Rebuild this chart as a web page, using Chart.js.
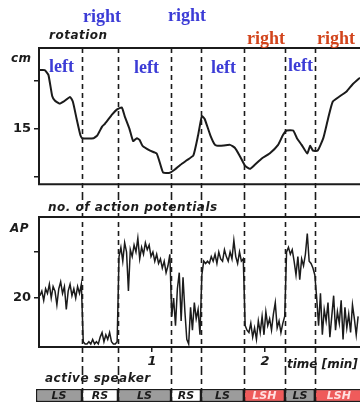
<!DOCTYPE html>
<html>
<head>
<meta charset="utf-8">
<script src="https://cdn.jsdelivr.net/npm/chart.js@4.4.1/dist/chart.umd.min.js"></script>
<style>
  body { margin: 0; background: #fff; }
  .fig { position: relative; width: 360px; height: 403px; overflow: hidden; font-family: "DejaVu Sans", sans-serif; }
  .fig canvas { position: absolute; left: 0; }
  .note { position: absolute; font-style: italic; font-weight: bold; font-size: 12px; line-height: 12px; color: #1c1c1c; white-space: nowrap; letter-spacing: 0.5px; }
  .side { position: absolute; font-family: "Liberation Serif", serif; font-weight: bold; font-size: 18px; line-height: 18px; white-space: nowrap; }
  .blue { color: #3c3cd6; }
  .red { color: #d2441c; }
</style>
</head>
<body>
<div class="fig">
  <canvas id="rotation" width="360" height="195" style="top:0"></canvas>
  <canvas id="spikes" width="360" height="175" style="top:195px"></canvas>
  <canvas id="speaker" width="360" height="33" style="top:370px"></canvas>

  <div class="side blue" style="left:83px;top:7px">right</div>
  <div class="side blue" style="left:168px;top:6px">right</div>
  <div class="side red" style="left:247px;top:29px">right</div>
  <div class="side red" style="left:317px;top:29px">right</div>
  <div class="side blue" style="left:49px;top:57px">left</div>
  <div class="side blue" style="left:134px;top:58px">left</div>
  <div class="side blue" style="left:211px;top:58px">left</div>
  <div class="side blue" style="left:288px;top:56px">left</div>

  <div class="note" style="left:49px;top:29px">rotation</div>
  <div class="note" style="left:11px;top:52px">cm</div>
  <div class="note" style="left:48px;top:201px">no. of action potentials</div>
  <div class="note" style="left:10px;top:222px">AP</div>
  <div class="note" style="left:287px;top:358px;letter-spacing:0">time [min]</div>
  <div class="note" style="left:45px;top:372px">active speaker</div>
</div>
<script>
// time is in seconds, the axis shows minutes
const switchSeconds = [22.8, 41.9, 70.1, 86.0, 108.8, 130.6, 146.5];
const speakers = ["LS", "RS", "LS", "RS", "LS", "LSH", "LS", "LSH"];
const speakerColours = { LS: "#9c9c9c", RS: "#ffffff", LSH: "#ef5b5b" };
const stripStart = -1.6;
const stripEnd = 172;

const rotSeconds = [0, 3, 5, 7, 8.5, 11, 13, 16.5, 18, 20, 22, 23, 29, 31, 33.5,
    35, 39, 41.5, 44, 45.5, 48, 50, 52, 53.5, 55, 59, 62.5, 65, 66, 69.5,
    72, 75, 78.5, 82, 84.5, 86.5, 88, 91, 93.5, 96, 101.5, 104, 106.5, 109.5, 112,
    114.5, 118.5, 122.5, 127, 129.5, 131.5, 135, 137, 139.5, 142.5, 144, 145.5, 148, 151, 153.5,
    156, 160, 163.5, 166.5, 170.5];
const rotCm = [21.1, 21.1, 20.6, 18.4, 17.9, 17.6, 17.8, 18.3, 17.8, 16.0, 14.3, 14.0, 14.0, 14.3, 15.2,
    15.5, 16.5, 17.0, 17.2, 16.3, 15.0, 13.7, 14.0, 13.8, 13.2, 12.7, 12.4, 10.9, 10.4, 10.4,
    10.7, 11.2, 11.7, 12.2, 14.3, 16.3, 16.0, 14.3, 13.3, 13.2, 13.3, 13.0, 12.2, 11.1, 10.8,
    11.2, 11.9, 12.4, 13.3, 14.3, 14.8, 14.8, 14.0, 13.3, 12.4, 13.2, 12.7, 12.7, 14.0, 16.0,
    17.8, 18.4, 18.9, 19.6, 20.3];
const cmTicks = [10, 15, 20];

// one count per second
const apPerSecond = [
    21, 23, 19, 24, 22, 26, 20, 25, 23, 17, 24, 27, 22, 25, 15, 23, 26, 21, 24, 20, 25, 22, 26,
    1, 0, 0, 1, 0, 2, 0, 1, 0, 3, 5, 1, 4, 2, 5, 1, 0, 0, 1,
    38, 42, 36, 44, 40, 23, 41, 38, 43, 40, 46, 37, 42, 39, 44, 41, 43, 38, 40, 36, 39, 35, 37, 33, 36, 31, 34, 39,
    12, 20, 8, 24, 31, 10, 29, 14, 2, 0, 16, 6, 18, 11, 15, 4,
    30, 36, 35, 36, 35, 38, 36, 39, 35, 40, 37, 36, 41, 38, 36, 40, 37, 45, 38, 35, 40, 36, 37,
    8, 6, 5, 9, 3, 7, 2, 10, 5, 12, 4, 14, 8, 11, 6, 13, 18, 7, 10, 5, 9, 12,
    40, 42, 39, 41, 36, 30, 38, 28, 37, 34, 39, 48, 36, 35, 33,
    30, 20, 8, 22, 4, 15, 10, 18, 3, 12, 21, 6, 14, 9, 19, 2, 16, 7, 13, 5, 17, 11, 4, 12
];
const apTicks = [20, 40];
const minuteTicks = [60, 120];

const INK = "#1b1b1b";
const tickFont = { family: "DejaVu Sans", size: 13, weight: "bold" };

const dashedSwitches = (fromChartTop) => ({
    id: "dashedSwitches",
    afterDatasetsDraw(chart) {
        const ctx = chart.ctx;
        const top = fromChartTop ? chart.chartArea.top : 0;
        ctx.save();
        ctx.strokeStyle = INK;
        ctx.lineWidth = 1.6;
        ctx.setLineDash([5, 4]);
        switchSeconds.forEach((s) => {
            const x = Math.round(chart.scales.x.getPixelForValue(s)) + 0.5;
            ctx.beginPath();
            ctx.moveTo(x, top);
            ctx.lineTo(x, chart.height);
            ctx.stroke();
        });
        ctx.restore();
    },
});

const frame = (withBottom) => ({
    id: "frame",
    afterDraw(chart) {
        const { left, right, top, bottom } = chart.chartArea;
        const ctx = chart.ctx;
        ctx.save();
        ctx.strokeStyle = INK;
        ctx.lineWidth = 2;
        ctx.beginPath();
        ctx.moveTo(left - 1, top);
        ctx.lineTo(right, top);
        if (withBottom) {
            ctx.moveTo(left - 1, bottom);
            ctx.lineTo(right, bottom);
        }
        ctx.stroke();
        ctx.restore();
    },
});

const yAxis = (min, max, tickValues, shown) => ({
    min: min,
    max: max,
    afterFit: (scale) => { scale.width = 39; },
    afterBuildTicks: (scale) => { scale.ticks = tickValues.map((v) => ({ value: v })); },
    ticks: { callback: (v) => (v === shown ? String(v) : ""), color: INK, font: tickFont, padding: 3 },
    grid: { drawOnChartArea: false, tickLength: 5, color: INK, lineWidth: 1.5 },
    border: { color: INK, width: 2 },
});

const baseOptions = {
    responsive: false,
    animation: false,
    events: [],
    plugins: { legend: { display: false }, tooltip: { enabled: false } },
};

new Chart(document.getElementById("rotation"), {
    type: "line",
    data: {
        datasets: [{
            data: rotSeconds.map((s, i) => ({ x: s, y: rotCm[i] })),
            borderColor: INK,
            borderWidth: 2,
            pointRadius: 0,
            tension: 0.15,
        }],
    },
    options: {
        ...baseOptions,
        layout: { padding: { top: 48, bottom: 8, left: 0, right: 0 } },
        scales: {
            x: { type: "linear", min: 0, max: 170.5, display: false },
            y: yAxis(9.2, 23.4, cmTicks, 15),
        },
    },
    plugins: [frame(true), dashedSwitches(true)],
});

new Chart(document.getElementById("spikes"), {
    type: "line",
    data: {
        datasets: [{
            data: apPerSecond.map((v, i) => ({ x: i + 0.5, y: v })),
            borderColor: INK,
            borderWidth: 1.5,
            pointRadius: 0,
            tension: 0,
        }],
    },
    options: {
        ...baseOptions,
        layout: { padding: { top: 22, bottom: 0, left: 0, right: 0 } },
        scales: {
            x: {
                type: "linear",
                min: 0,
                max: 170.5,
                afterFit: (scale) => { scale.height = 23; },
                afterBuildTicks: (scale) => { scale.ticks = minuteTicks.map((v) => ({ value: v })); },
                ticks: { callback: (v) => String(v / 60), color: INK, font: { ...tickFont, style: "italic" }, padding: 2 },
                grid: { drawOnChartArea: false, tickLength: 5, color: INK, lineWidth: 1.5 },
                border: { color: INK, width: 2 },
            },
            y: yAxis(-1.3, 55.2, apTicks, 20),
        },
    },
    plugins: [frame(false), dashedSwitches(false)],
});

const stripBounds = [stripStart, ...switchSeconds, stripEnd];

new Chart(document.getElementById("speaker"), {
    type: "bar",
    data: {
        labels: ["speaker"],
        datasets: speakers.map((name, i) => ({
            label: name,
            data: [[stripBounds[i], stripBounds[i + 1]]],
            backgroundColor: speakerColours[name],
            borderColor: INK,
            borderWidth: 1.5,
            borderSkipped: false,
            grouped: false,
            barPercentage: 1,
            categoryPercentage: 1,
        })),
    },
    options: {
        ...baseOptions,
        indexAxis: "y",
        layout: { padding: { top: 19, bottom: 1, left: 36, right: 0 } },
        scales: {
            x: { type: "linear", min: stripStart, max: 170.5, display: false },
            y: { display: false },
        },
    },
    plugins: [
        dashedSwitches(false),
        {
            id: "speakerNames",
            afterDatasetsDraw(chart) {
                const ctx = chart.ctx;
                ctx.save();
                ctx.font = "italic bold 11px 'DejaVu Sans'";
                ctx.textAlign = "center";
                ctx.textBaseline = "middle";
                speakers.forEach((name, i) => {
                    const p = chart.getDatasetMeta(i).data[0].getCenterPoint();
                    ctx.fillStyle = name === "LSH" ? "#ffe0e0" : INK;
                    ctx.fillText(name, p.x, p.y + 0.5);
                });
                ctx.restore();
            },
        },
    ],
});
</script>
</body>
</html>
